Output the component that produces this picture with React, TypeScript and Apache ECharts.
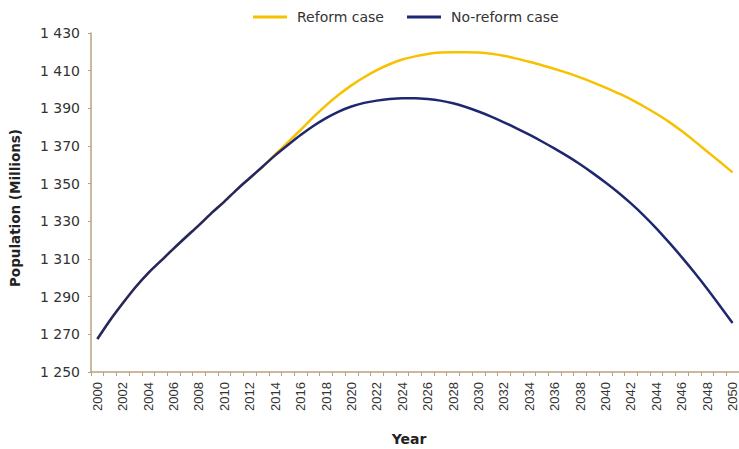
import React, { useEffect, useRef } from "react";
import * as echarts from "echarts";

const years: string[] = [];
for (let y = 2000; y <= 2050; y++) years.push(String(y));

const reformCase = [
  1267.5, 1277.5, 1286.5, 1295, 1302.5, 1309, 1315.5, 1321.8, 1328, 1334.5,
  1340.5, 1347, 1353, 1359, 1365.5, 1372, 1378.5, 1385.3, 1391.6, 1397.2,
  1402.2, 1406.5, 1410.3, 1413.4, 1415.9, 1417.6, 1418.9, 1419.6, 1419.8, 1419.8,
  1419.6, 1419, 1417.9, 1416.4, 1414.7, 1412.9, 1410.9, 1408.8, 1406.4, 1403.8,
  1401, 1398, 1394.8, 1391.1, 1387.1, 1382.8, 1377.9, 1372.6, 1367.1, 1361.6, 1356,
];

const noReformCase = [
  1267.5, 1277.5, 1286.5, 1295, 1302.5, 1309, 1315.5, 1321.8, 1328, 1334.5,
  1340.5, 1347, 1353, 1359, 1365, 1370.5, 1375.8, 1380.6, 1384.8, 1388.3,
  1391, 1392.9, 1394.1, 1394.9, 1395.3, 1395.3, 1394.9, 1394.1, 1392.7, 1390.7,
  1388.3, 1385.6, 1382.6, 1379.4, 1376, 1372.4, 1368.6, 1364.6, 1360.3, 1355.6,
  1350.6, 1345.3, 1339.5, 1333.2, 1326.3, 1318.8, 1311, 1302.8, 1294.2, 1285.2, 1276,
];

const seriesNames = ["Reform case", "No-reform case"];
const yTitle = "Population (Millions)";
const xTitle = "Year";

const AXIS_COLOR = "#b9a27f";
const YELLOW = "#f7c100";
const NAVY = "#1f2770";
const TEXT = "#333333";

export default function App() {
  const ref = useRef<HTMLDivElement>(null);
  useEffect(() => {
    document.body.style.margin = "0";
    const chart = echarts.init(ref.current!, null, { renderer: "svg" });
    chart.setOption({
      animation: false,
      backgroundColor: "#ffffff",
      legend: {
        left: 248,
        top: 5,
        itemWidth: 34,
        itemHeight: 3,
        itemGap: 23,
        icon: "rect",
        textStyle: {
          fontFamily: "DejaVu Sans",
          fontSize: 14,
          color: TEXT,
          padding: [0, 0, 0, 5],
        },
        data: seriesNames,
      },
      grid: { left: 91, right: -4, top: 33, bottom: 77 },
      xAxis: {
        type: "category",
        data: years,
        boundaryGap: true,
        axisLine: { lineStyle: { color: AXIS_COLOR, width: 1.5 } },
        axisTick: { show: true, interval: 0, length: 4, lineStyle: { color: AXIS_COLOR } },
        axisLabel: {
          interval: 1,
          rotate: 90,
          margin: 10,
          fontFamily: "Liberation Sans",
          fontSize: 13,
          color: TEXT,
        },
        splitLine: { show: false },
      },
      yAxis: {
        type: "value",
        min: 1250,
        max: 1430,
        interval: 20,
        axisLine: { show: true, lineStyle: { color: AXIS_COLOR, width: 1.5 } },
        axisTick: { show: true, length: 3, lineStyle: { color: AXIS_COLOR } },
        axisLabel: {
          margin: 11,
          fontFamily: "DejaVu Sans",
          fontSize: 14,
          color: TEXT,
          formatter: (v: number) => {
            const s = String(Math.round(v));
            return s.length > 3 ? s.slice(0, s.length - 3) + " " + s.slice(-3) : s;
          },
        },
        splitLine: { show: false },
      },
      graphic: [
        {
          type: "text",
          x: 15,
          y: 208,
          rotation: Math.PI / 2,
          style: {
            text: yTitle,
            fontFamily: "DejaVu Sans",
            fontWeight: "bold",
            fontSize: 13.5,
            fill: "#222",
            align: "center",
            verticalAlign: "middle",
          },
        },
        {
          type: "text",
          x: 409,
          y: 439,
          style: {
            text: xTitle,
            fontFamily: "DejaVu Sans",
            fontWeight: "bold",
            fontSize: 14,
            fill: "#222",
            align: "center",
            verticalAlign: "middle",
          },
        },
      ],
      series: [
        {
          name: seriesNames[0],
          type: "line",
          data: reformCase,
          showSymbol: false,
          smooth: 0.3,
          lineStyle: { color: YELLOW, width: 2.5 },
          itemStyle: { color: YELLOW },
          z: 2,
        },
        {
          name: seriesNames[1],
          type: "line",
          data: noReformCase,
          showSymbol: false,
          smooth: 0.3,
          lineStyle: { color: NAVY, width: 2.5 },
          itemStyle: { color: NAVY },
          z: 3,
        },
      ],
    });
    return () => chart.dispose();
  }, []);
  return <div ref={ref} style={{ width: 739, height: 449 }} />;
}
